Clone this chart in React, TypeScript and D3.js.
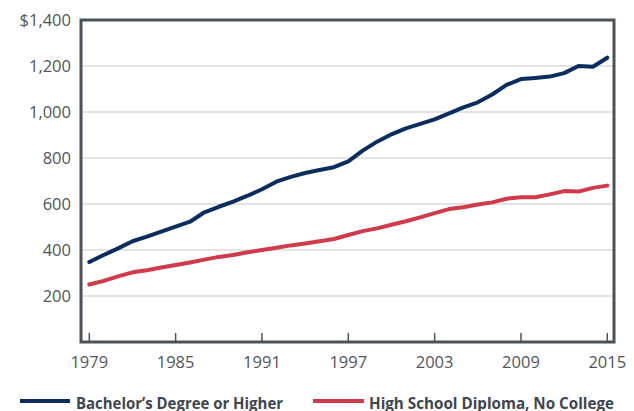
import React from "react";
import * as d3 from "d3";

const years: number[] = d3.range(1979, 2016);
const bachelor: number[] = [
  348, 378, 407, 438, 458, 480, 502, 523, 564, 588,
  610, 636, 664, 697, 718, 735, 748, 760, 785, 832,
  871, 903, 929, 948, 968, 994, 1020, 1042, 1076, 1118,
  1143, 1148, 1154, 1169, 1200, 1197, 1236,
];
const highSchool: number[] = [
  250, 266, 285, 303, 312, 324, 335, 346, 358, 370,
  378, 390, 400, 410, 420, 428, 438, 448, 465, 482,
  494, 510, 525, 542, 560, 578, 586, 598, 607, 623,
  629, 629, 642, 656, 654, 670, 680,
];
const xTicks: number[] = [1979, 1985, 1991, 1997, 2003, 2009, 2015];
const yTicks: number[] = [200, 400, 600, 800, 1000, 1200, 1400];
const seriesNames: string[] = ["Bachelor’s Degree or Higher", "High School Diploma, No College"];
const seriesColors: string[] = ["#0b2d5e", "#d03a4a"];

const W = 634;
const H = 411;

export default function App() {
  const frameL = 81, frameR = 614, frameT = 20, frameB = 342;
  const x = d3.scaleLinear().domain([1979, 2015]).range([89.3, 607.3]);
  const y = d3.scaleLinear().domain([0, 1400]).range([frameB, frameT]);
  const line = d3
    .line<number>()
    .x((_, i) => x(years[i]))
    .y((d) => y(d))
    .curve(d3.curveLinear);
  const labelColor = "#50555d";
  const font = "'Open Sans', 'Noto Sans', sans-serif";
  const series = [bachelor, highSchool];
  const legend = [
    { x0: 20, x1: 70, tx: 76, tw: 207 },
    { x0: 313, x1: 364, tx: 369, tw: 245 },
  ];
  return (
    <svg
      width={W}
      height={H}
      style={{ position: "absolute", left: 0, top: 0, background: "#fff" }}
    >
      {yTicks
        .filter((t) => t < 1400)
        .map((t) => (
          <line
            key={"g" + t}
            x1={frameL}
            x2={frameR}
            y1={y(t)}
            y2={y(t)}
            stroke="#c8c8c8"
            strokeWidth={1.2}
          />
        ))}
      {yTicks.map((t) => (
        <text
          key={"yl" + t}
          x={71}
          y={y(t)}
          dy="0.36em"
          textAnchor="end"
          fontFamily={font}
          fontSize={16.5}
          fill={labelColor}
        >
          {t === 1400 ? "$" + d3.format(",")(t) : d3.format(",")(t)}
        </text>
      ))}
      {xTicks.map((t) => (
        <g key={"xt" + t}>
          <line
            x1={x(t)}
            x2={x(t)}
            y1={frameB - 9}
            y2={frameB}
            stroke="#4d5259"
            strokeWidth={1.5}
          />
          <text
            x={x(t)}
            y={368}
            textAnchor="middle"
            fontFamily={font}
            fontSize={16.5}
            fill={labelColor}
          >
            {t}
          </text>
        </g>
      ))}
      {series.map((s, i) => (
        <path
          key={"s" + i}
          d={line(s) || ""}
          fill="none"
          stroke={seriesColors[i]}
          strokeWidth={4}
          strokeLinejoin="round"
          strokeLinecap="round"
        />
      ))}
      <rect
        x={frameL}
        y={frameT}
        width={frameR - frameL}
        height={frameB - frameT}
        fill="none"
        stroke="#4d5259"
        strokeWidth={3}
      />
      {legend.map((l, i) => (
        <g key={"lg" + i}>
          <line
            x1={l.x0}
            x2={l.x1}
            y1={401}
            y2={401}
            stroke={seriesColors[i]}
            strokeWidth={4}
          />
          <text
            x={l.tx}
            y={409}
            fontFamily={font}
            fontWeight={700}
            fontSize={16}
            fill="#3e4550"
            textLength={l.tw}
            lengthAdjust="spacingAndGlyphs"
          >
            {seriesNames[i]}
          </text>
        </g>
      ))}
    </svg>
  );
}
